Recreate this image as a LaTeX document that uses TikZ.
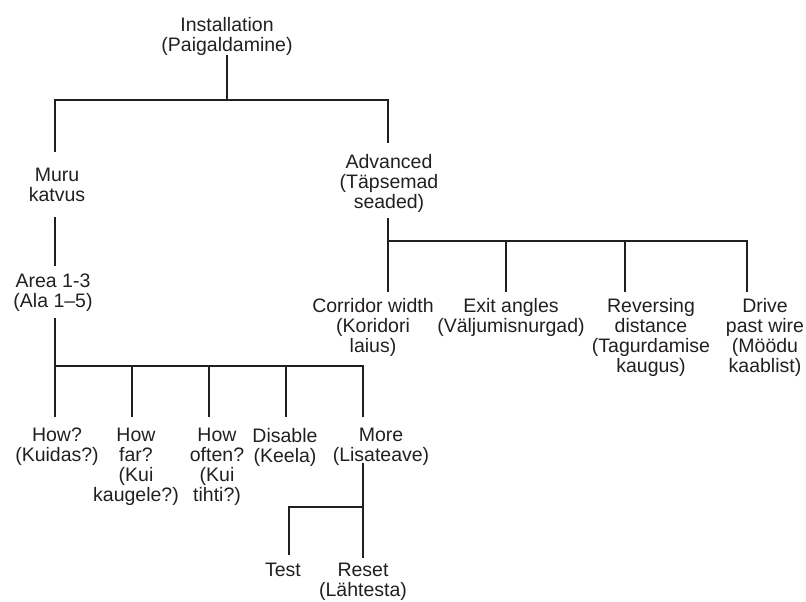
\documentclass[tikz,border=0pt]{standalone}
\usepackage{fontspec}
\setmainfont{Liberation Sans}
\definecolor{ink}{HTML}{231F20}
\begin{document}
\begin{tikzpicture}[x=1pt,y=-1pt,
  label/.style={align=center, inner sep=0pt, anchor=north, text=ink,
                font=\fontsize{19.5}{20}\selectfont},
  wire/.style={draw=ink, line width=2.6pt}]
\useasboundingbox (0,0) rectangle (806,602);

% menu entries (first baseline sits 14pt below the node top)
\node[label] (install) at (227,17)  {Installation\\(Paigaldamine)};
\node[label] (muru)    at (57,168)  {Muru\\katvus};
\node[label] (adv)     at (389,154) {Advanced\\(Täpsemad\\seaded)};
\node[label] (area)    at (53,274)  {Area 1-3\\(Ala 1–5)};
\node[label] (corr)    at (373,298) {Corridor width\\(Koridori\\laius)};
\node[label] (exit)    at (511,298) {Exit angles\\(Väljumisnurgad)};
\node[label] (rev)     at (651,298) {Reversing\\distance\\(Tagurdamise\\kaugus)};
\node[label] (drive)   at (765,298) {Drive\\past wire\\(Möödu\\kaablist)};
\node[label] (how)     at (57,428)  {How?\\(Kuidas?)};
\node[label] (far)     at (136,428) {How\\far?\\(Kui\\kaugele?)};
\node[label] (often)   at (217,428) {How\\often?\\(Kui\\tihti?)};
\node[label] (disable) at (285,428) {Disable\\(Keela)};
\node[label] (more)    at (381,428) {More\\(Lisateave)};
\node[label] (test)    at (283,563) {Test};
\node[label] (reset)   at (363,563) {Reset\\(Lähtesta)};

% line ends just above / below the entries
\coordinate (install-out) at (227,55);
\coordinate (bus-install) at (227,100);
\coordinate (muru-in)     at (55,152);
\coordinate (adv-in)      at (388,143);

\coordinate (muru-out)    at (55,217);
\coordinate (area-in)     at (55,266);

\coordinate (adv-out)     at (388,218);
\coordinate (bus-adv)     at (388,241);
\coordinate (corr-in)     at (388,292);
\coordinate (exit-in)     at (506,292);
\coordinate (rev-in)      at (625,292);
\coordinate (drive-in)    at (747,292);

\coordinate (area-out)    at (55,318);
\coordinate (bus-area)    at (55,366);
\coordinate (how-in)      at (55,417);
\coordinate (far-in)      at (132,417);
\coordinate (often-in)    at (209,417);
\coordinate (disable-in)  at (286,417);
\coordinate (more-in)     at (363,417);

\coordinate (more-out)    at (363,463);
\coordinate (bus-more)    at (363,507);
\coordinate (test-in)     at (289,555);
\coordinate (reset-in)    at (363,558);

% connectors
\draw[wire] (install-out) -- (bus-install);
\draw[wire] (bus-install) -| (muru-in);
\draw[wire] (bus-install) -| (adv-in);

\draw[wire] (muru-out) -- (area-in);

\draw[wire] (adv-out) -- (bus-adv);
\draw[wire] (bus-adv) -- (corr-in);
\draw[wire] (bus-adv) -| (exit-in);
\draw[wire] (bus-adv) -| (rev-in);
\draw[wire] (bus-adv) -| (drive-in);

\draw[wire] (area-out) -- (bus-area);
\draw[wire] (bus-area) -- (how-in);
\draw[wire] (bus-area) -| (far-in);
\draw[wire] (bus-area) -| (often-in);
\draw[wire] (bus-area) -| (disable-in);
\draw[wire] (bus-area) -| (more-in);

\draw[wire] (more-out) -- (bus-more);
\draw[wire] (bus-more) -| (test-in);
\draw[wire] (bus-more) -- (reset-in);
\end{tikzpicture}
\end{document}
